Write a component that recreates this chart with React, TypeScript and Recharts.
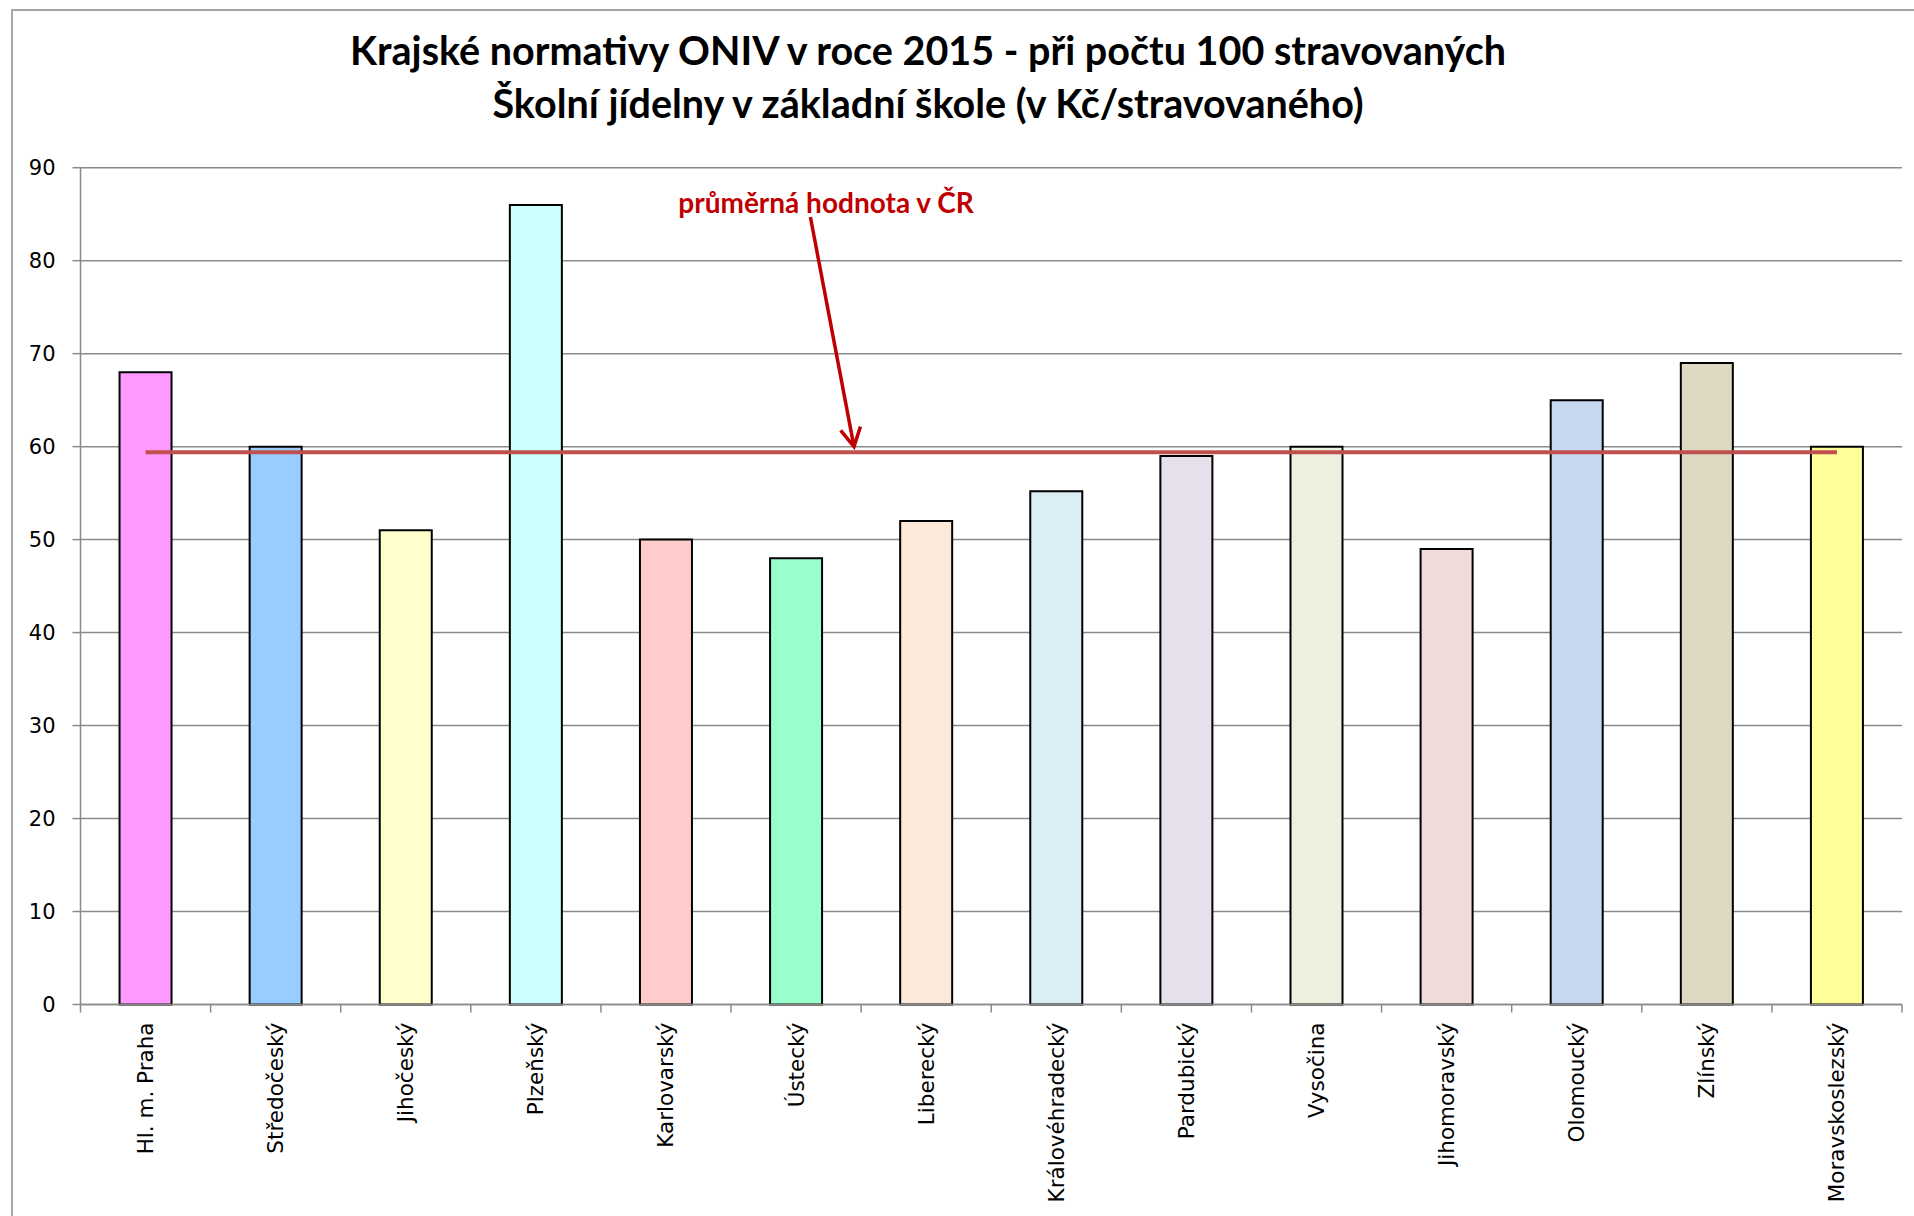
import React from 'react';
import {
  ComposedChart,
  Bar,
  Line,
  XAxis,
  YAxis,
  CartesianGrid,
  Cell,
  ReferenceLine,
  ReferenceDot,
} from 'recharts';

// ---------- data ----------
const categories = [
  'Hl. m. Praha',
  'Středočeský',
  'Jihočeský',
  'Plzeňský',
  'Karlovarský',
  'Ústecký',
  'Liberecký',
  'Královéhradecký',
  'Pardubický',
  'Vysočina',
  'Jihomoravský',
  'Olomoucký',
  'Zlínský',
  'Moravskoslezský',
];

const values = [68, 60, 51, 86, 50, 48, 52, 55.2, 59, 60, 49, 65, 69, 60];

const barColors = [
  '#FF99FF',
  '#99CCFF',
  '#FFFFCC',
  '#CCFFFF',
  '#FFCCCC',
  '#99FFCC',
  '#FDE9D9',
  '#DAEEF3',
  '#E5E0EC',
  '#EBF1DE',
  '#F2DCDB',
  '#C6D9F0',
  '#DDD9C3',
  '#FFFF99',
];

const averageValue = 59.4;

const yTicks = [0, 10, 20, 30, 40, 50, 60, 70, 80, 90];

const titleLines = [
  'Krajské normativy ONIV v roce 2015 - při počtu 100 stravovaných',
  'Školní jídelny v základní škole (v Kč/stravovaného)',
];

const annotationText = 'průměrná hodnota v ČR';
// annotation positions in data units (hidden numeric x axis 0..14 = category slots, y axis 0..90)
const arrowStart = { x: 5.61, y: 84.7 };
const arrowEnd = { x: 5.945, y: 60 };
const annotationAnchor = { x: 5.73, y: 85.1 };

const data = categories.map((name, i) => ({
  name,
  slot: i + 0.5,
  value: values[i],
  avg: averageValue,
}));

// ---------- styles ----------
const GRID = '#8a8a8a';
const RED = '#C00000';
const AVG_RED = '#C0504D';
const LABEL_FONT = '"DejaVu Sans", Verdana, sans-serif';
const TITLE_FONT = 'Lato, Carlito, Calibri, sans-serif';

const XTick = (props: any) => {
  const { x, y, payload, index } = props;
  const axisWidth = props.width ?? 1821.5;
  const band = axisWidth / categories.length;
  const left = x - band / 2;
  const right = x + band / 2;
  return (
    <g>
      <line x1={left} y1={y} x2={left} y2={y + 8} stroke={GRID} strokeWidth={1.5} />
      {index === categories.length - 1 && (
        <line x1={right} y1={y} x2={right} y2={y + 8} stroke={GRID} strokeWidth={1.5} />
      )}
      <text
        x={0}
        y={0}
        transform={`translate(${x},${y + 18}) rotate(-90)`}
        textAnchor="end"
        dominantBaseline="central"
        fontFamily={LABEL_FONT}
        fontSize={21.5}
        fill="#000"
      >
        {payload.value}
      </text>
    </g>
  );
};

const ArrowShape = (p: any) => {
  const { x1, y1, x2, y2 } = p;
  if ([x1, y1, x2, y2].some((v) => typeof v !== 'number' || isNaN(v))) return null;
  const ang = Math.atan2(y2 - y1, x2 - x1);
  const L = 21;
  const spread = 0.5;
  const ax = x2 - L * Math.cos(ang - spread);
  const ay = y2 - L * Math.sin(ang - spread);
  const bx = x2 - L * Math.cos(ang + spread);
  const by = y2 - L * Math.sin(ang + spread);
  return (
    <g>
      <line x1={x1} y1={y1} x2={x2} y2={y2} stroke={RED} strokeWidth={3.5} />
      <polyline
        points={`${ax},${ay} ${x2},${y2} ${bx},${by}`}
        fill="none"
        stroke={RED}
        strokeWidth={3.5}
        strokeLinejoin="miter"
      />
    </g>
  );
};

const AnnotationShape = (p: any) => {
  const { cx, cy } = p;
  if (typeof cx !== 'number' || typeof cy !== 'number') return null;
  return (
    <text
      x={cx}
      y={cy}
      textAnchor="middle"
      fontFamily={TITLE_FONT}
      fontWeight="bold"
      fontSize={28}
      fill={RED}
    >
      {annotationText}
    </text>
  );
};

export default function App() {
  return (
    <div
      style={{
        position: 'absolute',
        left: 0,
        top: 0,
        width: 1914,
        height: 1216,
        background: '#fff',
        overflow: 'hidden',
      }}
    >
      <div
        style={{
          position: 'absolute',
          left: 11,
          top: 9,
          width: 1914,
          height: 1216,
          borderLeft: '2px solid #a6a6a6',
          borderTop: '2px solid #a6a6a6',
        }}
      />
      <div style={{ position: 'absolute', left: 0, top: 0 }}>
        <ComposedChart
          width={1914}
          height={1216}
          data={data}
          margin={{ top: 167.7, right: 12, left: 0, bottom: 0 }}
          barCategoryGap="30%"
        >
          <CartesianGrid vertical={false} stroke={GRID} strokeWidth={1.5} />
          <XAxis
            dataKey="name"
            height={211.5}
            interval={0}
            tickSize={0}
            tickMargin={0}
            tickLine={false}
            axisLine={{ stroke: GRID, strokeWidth: 1.5 }}
            tick={<XTick />}
          />
          <XAxis
            xAxisId="num"
            dataKey="slot"
            type="number"
            domain={[0, categories.length]}
            allowDataOverflow
            hide
          />
          <YAxis
            domain={[0, 90]}
            ticks={yTicks}
            interval={0}
            width={80.5}
            tickSize={8}
            tickMargin={17}
            axisLine={{ stroke: GRID, strokeWidth: 1.5 }}
            tickLine={{ stroke: GRID, strokeWidth: 1.5 }}
            tick={{ fontFamily: LABEL_FONT, fontSize: 21, fill: '#000' }}
          />
          <Bar dataKey="value" stroke="#000" strokeWidth={2} isAnimationActive={false}>
            {data.map((d, i) => (
              <Cell key={d.name} fill={barColors[i]} />
            ))}
          </Bar>
          <Line
            dataKey="avg"
            type="linear"
            stroke={AVG_RED}
            strokeWidth={4}
            dot={false}
            activeDot={false}
            isAnimationActive={false}
          />
          <ReferenceLine
            xAxisId="num"
            segment={[arrowStart, arrowEnd]}
            shape={ArrowShape}
            ifOverflow="visible"
          />
          <ReferenceDot
            xAxisId="num"
            x={annotationAnchor.x}
            y={annotationAnchor.y}
            r={0}
            shape={AnnotationShape}
            ifOverflow="visible"
          />
        </ComposedChart>
      </div>
      <svg
        width={1914}
        height={1216}
        style={{ position: 'absolute', left: 0, top: 0, pointerEvents: 'none' }}
      >
        {titleLines.map((t, i) => (
          <text
            key={t}
            x={928}
            y={65 + i * 53}
            textAnchor="middle"
            fontFamily={TITLE_FONT}
            fontWeight="bold"
            fontSize={39.5}
            fill="#000"
          >
            {t}
          </text>
        ))}
      </svg>
    </div>
  );
}
